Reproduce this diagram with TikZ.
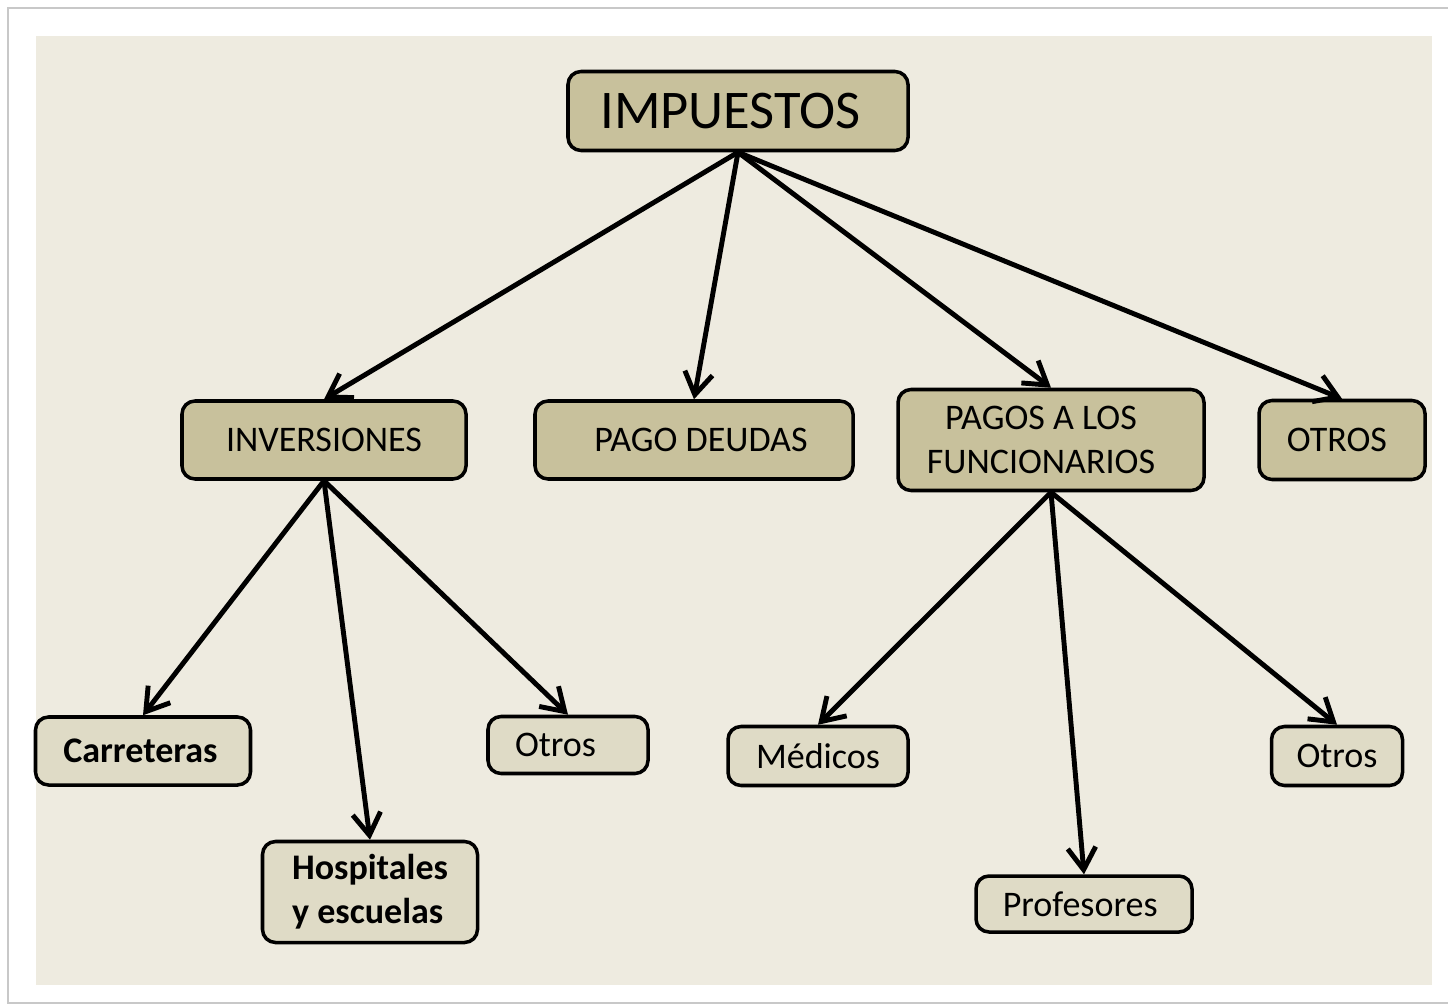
\documentclass[tikz,border=0pt]{standalone}
\usepackage{fontspec}
\setmainfont{Carlito}
\usetikzlibrary{arrows.meta,positioning}
\definecolor{paper}{RGB}{238,235,224}
\definecolor{tandark}{RGB}{200,193,156}
\definecolor{tanlight}{RGB}{223,219,198}
\definecolor{framegray}{RGB}{200,200,200}

\begin{document}
\begin{tikzpicture}[x=0.2mm, y=-0.2mm, >={Straight Barb[length=4.4mm,width=5.6mm]},
    mainbox/.style={rectangle, rounded corners=2.6mm, draw=black, line width=2pt, fill=tandark, align=center, font=\fontsize{20.5}{25}\selectfont, inner sep=0pt},
    leafbox/.style={rectangle, rounded corners=2.6mm, draw=black, line width=2pt, fill=tanlight, align=center, font=\fontsize{20.5}{25}\selectfont, inner sep=0pt},
    arrow/.style={->, line width=2.8pt, black}]

    \useasboundingbox (0,0) rectangle (1448,1006);

    % Frame and background
    \draw[framegray, line width=0.5mm, fill=white] (8,8) rectangle (1470,1003);
    \fill[paper] (36,36) rectangle (1432,985);

    % Root
    \node[mainbox, minimum width=68mm, minimum height=15.8mm, font=\fontsize{31}{37}\selectfont] (imp) at (738,111) {IMPUESTOS\hspace{3mm}};

    % First level
    \node[mainbox, minimum width=56.8mm, minimum height=15.6mm] (inv) at (324,440) {INVERSIONES};
    \node[mainbox, minimum width=63.6mm, minimum height=15.6mm] (deuda) at (694,440) {\hspace{2.8mm}PAGO DEUDAS};
    \node[mainbox, minimum width=61.2mm, minimum height=20.2mm] (func) at (1051,440) {PAGOS A LOS\hspace*{4mm}\\FUNCIONARIOS\hspace*{4mm}};
    \node[mainbox, minimum width=33.2mm, minimum height=15.8mm] (otros) at (1342,440) {OTROS\hspace{2mm}};

    % Under INVERSIONES
    \node[leafbox, minimum width=43mm, minimum height=13.6mm, font=\fontsize{20.5}{25}\selectfont\bfseries] (carr) at (143,751) {Carreteras\hspace{1mm}};
    \node[leafbox, minimum width=43mm, minimum height=20.2mm, align=left, font=\fontsize{20.5}{25}\selectfont\bfseries] (hosp) at (370,892) {Hospitales\\y escuelas};
    \node[leafbox, minimum width=32mm, minimum height=11.4mm] (otrosinv) at (568,745) {Otros\hspace{5mm}};

    % Under PAGOS A LOS FUNCIONARIOS
    \node[leafbox, minimum width=36mm, minimum height=11.8mm] (med) at (818,756) {Médicos};
    \node[leafbox, minimum width=43.2mm, minimum height=11.2mm] (prof) at (1084,904) {Profesores\hspace{1.5mm}};
    \node[leafbox, minimum width=26.2mm, minimum height=11.8mm] (otrosfunc) at (1337,756) {Otros};

    % Arrows from root
    \draw[arrow] (imp.south) -- (inv.north);
    \draw[arrow] (imp.south) -- (deuda.north);
    \draw[arrow] (imp.south) -- (func.north);
    \draw[arrow] (imp.south) -- (otros.north);

    % Arrows from INVERSIONES
    \draw[arrow] (inv.south) -- (carr.north);
    \draw[arrow] (inv.south) -- (hosp.north);
    \draw[arrow] (inv.south) -- (otrosinv.north);

    % Arrows from PAGOS A LOS FUNCIONARIOS
    \draw[arrow] (func.south) -- (med.north);
    \draw[arrow] (func.south) -- (prof.north);
    \draw[arrow] (func.south) -- (otrosfunc.north);

\end{tikzpicture}
\end{document}
